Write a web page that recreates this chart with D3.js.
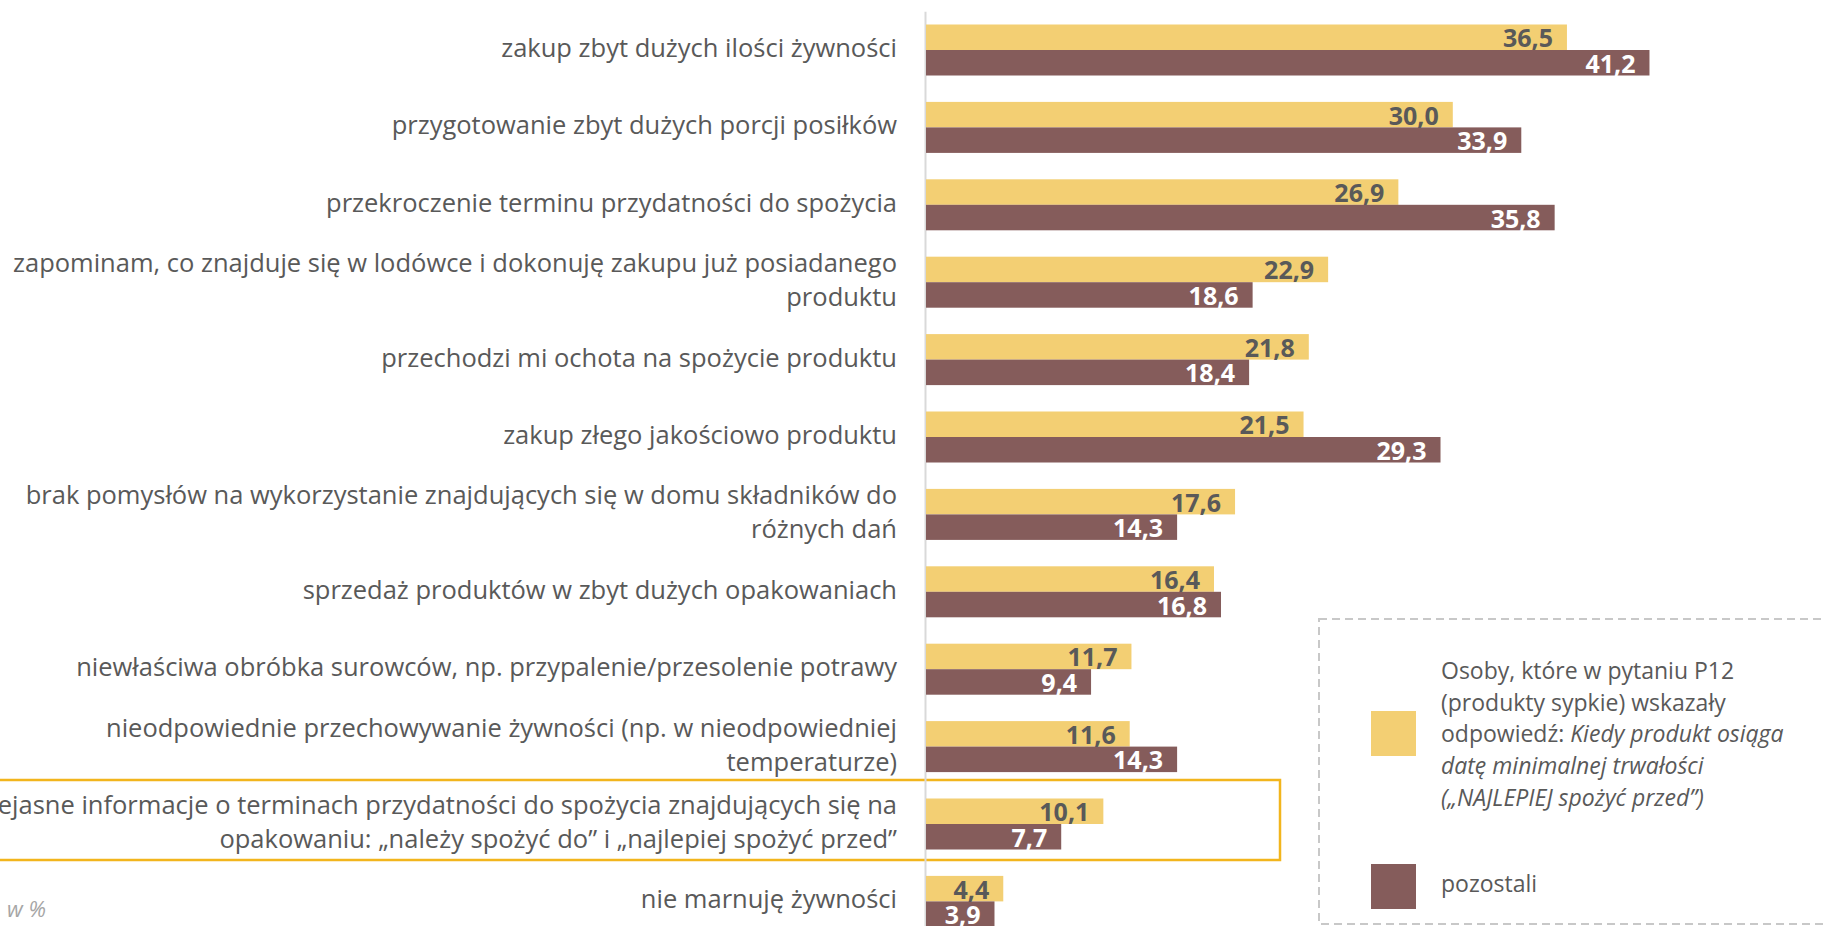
<!DOCTYPE html>
<html>
<head>
<meta charset="utf-8">
<script src="https://cdn.jsdelivr.net/npm/d3@7"></script>
<style>
  html, body { margin: 0; padding: 0; background: #ffffff; overflow: hidden; }
  svg { display: block; }
  text { font-family: "Open Sans", "Noto Sans", sans-serif; }
</style>
</head>
<body>
<svg id="chart" width="1825" height="926"></svg>
<script>
// Reasons for wasting food (w %), two respondent groups
const categories = [
  ["zakup zbyt dużych ilości żywności"],
  ["przygotowanie zbyt dużych porcji posiłków"],
  ["przekroczenie terminu przydatności do spożycia"],
  ["zapominam, co znajduje się w lodówce i dokonuję zakupu już posiadanego", "produktu"],
  ["przechodzi mi ochota na spożycie produktu"],
  ["zakup złego jakościowo produktu"],
  ["brak pomysłów na wykorzystanie znajdujących się w domu składników do", "różnych dań"],
  ["sprzedaż produktów w zbyt dużych opakowaniach"],
  ["niewłaściwa obróbka surowców, np. przypalenie/przesolenie potrawy"],
  ["nieodpowiednie przechowywanie żywności (np. w nieodpowiedniej", "temperaturze)"],
  ["niejasne informacje o terminach przydatności do spożycia znajdujących się na", "opakowaniu: „należy spożyć do” i „najlepiej spożyć przed”"],
  ["nie marnuję żywności"]
];
const najlepiejValues = [36.5, 30.0, 26.9, 22.9, 21.8, 21.5, 17.6, 16.4, 11.7, 11.6, 10.1, 4.4];
const pozostaliValues = [41.2, 33.9, 35.8, 18.6, 18.4, 29.3, 14.3, 16.8, 9.4, 14.3, 7.7, 3.9];
const seriesKeys = ["najlepiej", "pozostali"];
const legendLines = [
  [{ t: "Osoby, które w pytaniu P12", i: false }],
  [{ t: "(produkty sypkie) wskazały", i: false }],
  [{ t: "odpowiedź: ", i: false }, { t: "Kiedy produkt osiąga", i: true }],
  [{ t: "datę minimalnej trwałości", i: true }],
  [{ t: "(„NAJLEPIEJ spożyć przed”)", i: true }]
];
const otherLabel = "pozostali";
const unitLabel = "w %";
const highlightedIndex = 10;

const colors = { najlepiej: "#F3CF73", pozostali: "#855C5B" };
const textGrey = "#595959";

const svg = d3.select("#chart");

const rows = categories.map((lines, i) => ({
  id: i,
  lines,
  najlepiej: najlepiejValues[i],
  pozostali: pozostaliValues[i]
}));

const step = 77.4;
const plotTop = 11.3;
const y = d3.scaleBand()
  .domain(rows.map(d => d.id))
  .range([plotTop, plotTop + step * rows.length])
  .paddingInner(0.341)
  .paddingOuter(0.1705);

const ySeries = d3.scaleBand()
  .domain(seriesKeys)
  .range([0, y.bandwidth()]);

const x = d3.scaleLinear()
  .domain([0, 50])
  .range([926, 926 + 50 * 17.56]);

// highlighted category frame
const hi = y(highlightedIndex) + y.bandwidth() / 2;
svg.append("rect")
  .attr("x", -10)
  .attr("y", hi - 44)
  .attr("width", 1290)
  .attr("height", 80)
  .attr("fill", "none")
  .attr("stroke", "#F2B51C")
  .attr("stroke-width", 2.5);

// vertical category axis line
const axis = svg.append("g")
  .attr("transform", `translate(${x(0) - 1},0)`)
  .call(d3.axisLeft(y).tickSize(0).tickFormat(""));
axis.select(".domain").attr("stroke", "#d9d9d9").attr("stroke-width", 2);

// bars
const groups = svg.append("g").selectAll("g")
  .data(rows)
  .join("g")
  .attr("transform", d => `translate(0,${y(d.id)})`);

groups.selectAll("rect")
  .data(d => seriesKeys.map(k => ({ key: k, value: d[k] })))
  .join("rect")
  .attr("x", x(0))
  .attr("y", d => ySeries(d.key))
  .attr("width", d => x(d.value) - x(0))
  .attr("height", ySeries.bandwidth())
  .attr("fill", d => colors[d.key]);

// value labels inside bar ends
groups.selectAll("text.val")
  .data(d => seriesKeys.map(k => ({ key: k, value: d[k] })))
  .join("text")
  .attr("class", "val")
  .attr("x", d => x(d.value) - 14)
  .attr("y", d => ySeries(d.key) + ySeries.bandwidth() / 2)
  .attr("dy", "0.4em")
  .attr("text-anchor", "end")
  .attr("font-size", 25)
  .attr("font-weight", "bold")
  .attr("fill", d => d.key === "najlepiej" ? textGrey : "#ffffff")
  .text(d => d3.format(".1f")(d.value).replace(".", ","));

// category labels
const lineGap = 34;
svg.append("g").selectAll("text")
  .data(rows)
  .join("text")
  .attr("text-anchor", "end")
  .attr("font-size", 25.5)
  .attr("fill", textGrey)
  .each(function (d) {
    const c = y(d.id) + y.bandwidth() / 2;
    const n = d.lines.length;
    d3.select(this).selectAll("tspan")
      .data(d.lines)
      .join("tspan")
      .attr("x", 897)
      .attr("y", (l, j) => c + 7 + (j - (n - 1) / 2) * lineGap)
      .text(l => l);
  });

// unit note
svg.append("text")
  .attr("x", 7)
  .attr("y", 917)
  .attr("font-size", 22)
  .attr("font-style", "italic")
  .attr("fill", "#a6a6a6")
  .text(unitLabel);

// legend
const legend = svg.append("g");
legend.append("rect")
  .attr("x", 1319)
  .attr("y", 619)
  .attr("width", 600)
  .attr("height", 305)
  .attr("fill", "none")
  .attr("stroke", "#c8c8c8")
  .attr("stroke-width", 2)
  .attr("stroke-dasharray", "8,5");

legend.append("rect")
  .attr("x", 1371).attr("y", 711).attr("width", 45).attr("height", 45)
  .attr("fill", colors.najlepiej);
legend.append("rect")
  .attr("x", 1371).attr("y", 864).attr("width", 45).attr("height", 45)
  .attr("fill", colors.pozostali);

const lt = legend.append("text")
  .attr("font-size", 23)
  .attr("fill", textGrey);
legendLines.forEach((parts, j) => {
  parts.forEach((p, k) => {
    const ts = lt.append("tspan")
      .attr("font-style", p.i ? "italic" : "normal")
      .text(p.t);
    if (k === 0) ts.attr("x", 1441).attr("y", 679 + j * 31.7);
  });
});

legend.append("text")
  .attr("x", 1441)
  .attr("y", 892)
  .attr("font-size", 23)
  .attr("fill", textGrey)
  .text(otherLabel);
</script>
</body>
</html>
